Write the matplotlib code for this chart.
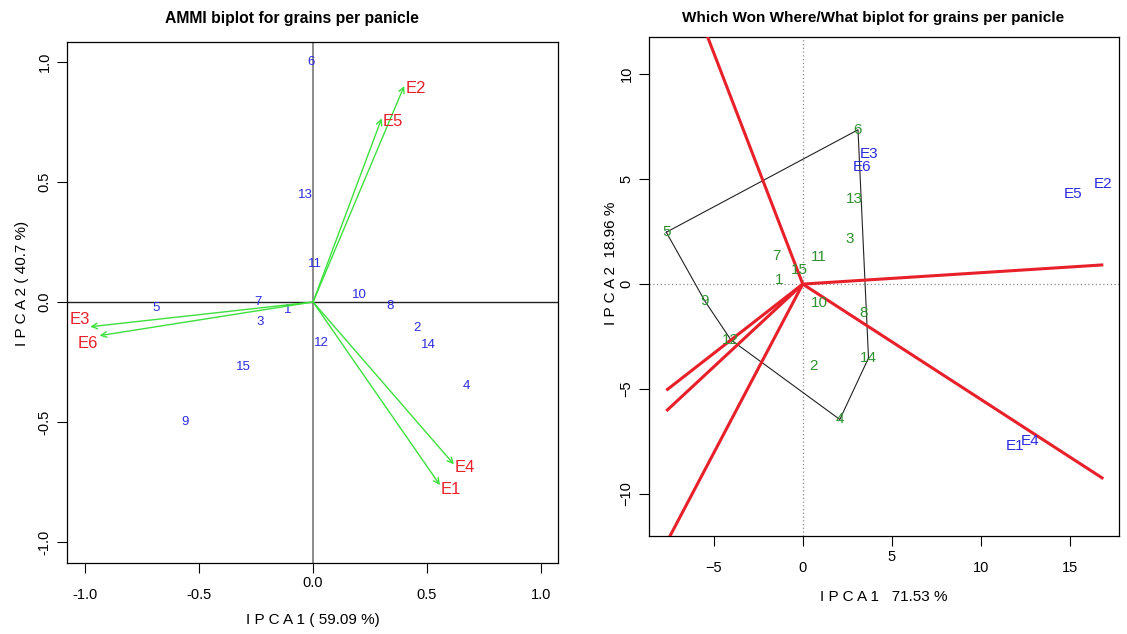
import numpy as np
import matplotlib
matplotlib.use("Agg")
import matplotlib.pyplot as plt
from matplotlib.transforms import ScaledTranslation

plt.rcParams['font.family'] = ['Liberation Sans', 'DejaVu Sans']

# AMMI biplot (left)
gen_labels = [str(i) for i in range(1, 16)]
ammi_gen_x = [-0.113, 0.455, -0.232, 0.674, -0.69, -0.01, -0.24, 0.338, -0.561, 0.203, 0.009, 0.038, -0.032, 0.506, -0.308]
ammi_gen_y = [-0.033, -0.107, -0.085, -0.35, -0.024, 1.0, 0.001, -0.017, -0.499, 0.029, 0.158, -0.172, 0.446, -0.179, -0.269]
env_labels = ['E1', 'E2', 'E3', 'E4', 'E5', 'E6']
ammi_env_x = [0.557, 0.40, -0.978, 0.618, 0.301, -0.937]
ammi_env_y = [-0.7625, 0.90, -0.103, -0.676, 0.765, -0.14]

# which won where (right)
www_gen_x = [-1.35, 0.58, 2.64, 2.08, -7.66, 3.1, -1.48, 3.39, -5.5, 0.96, 0.9, -4.04, 2.87, 3.69, -0.2]
www_gen_y = [0.2, -3.89, 2.13, -6.45, 2.47, 7.35, 1.34, -1.38, -0.8, -0.91, 1.31, -2.65, 4.05, -3.52, 0.68]
www_env_x = [11.91, 16.87, 3.72, 12.75, 15.19, 3.33]
www_env_y = [-7.69, 4.75, 6.19, -7.46, 4.27, 5.56]

BLUE = '#2b2bdf'
RED = '#e8202a'
LIME = '#3de03d'
GREEN = '#2f912f'


def convex_hull(pts):
    pts = sorted(set(pts))
    def cross(o, a, b):
        return (a[0] - o[0]) * (b[1] - o[1]) - (a[1] - o[1]) * (b[0] - o[0])
    lower, upper = [], []
    for p in pts:
        while len(lower) >= 2 and cross(lower[-2], lower[-1], p) <= 0:
            lower.pop()
        lower.append(p)
    for p in reversed(pts):
        while len(upper) >= 2 and cross(upper[-2], upper[-1], p) <= 0:
            upper.pop()
        upper.append(p)
    return lower[:-1] + upper[:-1]


def r_style(ax):
    ax.tick_params(direction='out', length=7, width=0.8, labelsize=10.5)
    ax.tick_params(axis='x', pad=11)
    ax.tick_params(axis='y', pad=4)
    for lbl in ax.get_yticklabels():
        lbl.set_rotation(90)
        lbl.set_va('center')
    for s in ax.spines.values():
        s.set_linewidth(0.9)


def raise_label(ax, i, px):
    # R drew this tick label a bit higher than the others
    lbl = ax.get_xticklabels()[i]
    lbl.set_transform(lbl.get_transform() + ScaledTranslation(0, px / 100, fig.dpi_scale_trans))


fig = plt.figure(figsize=(11.27, 6.34), dpi=100)

# ---- left panel
ax1 = fig.add_axes([67 / 1127, 1 - 563 / 634, 491 / 1127, 521 / 634])
ax1.set_xlim(-1.08, 1.075)
ax1.set_ylim(-1.087, 1.083)
ax1.axvline(0, color='#777777', lw=1.2, zorder=1)
ax1.axhline(0, color='#222222', lw=1.0, zorder=1)
for x, y, t in zip(ammi_gen_x, ammi_gen_y, gen_labels):
    ax1.text(x, y, t, color=BLUE, fontsize=9.5, ha='center', va='center')
# label offsets in pixels (style only)
env_off = {'E1': (1, -4), 'E2': (1, -3), 'E3': (0, 7), 'E4': (1, -3), 'E5': (1, -3), 'E6': (-2, -8)}
for x, y, t in zip(ammi_env_x, ammi_env_y, env_labels):
    ax1.annotate('', xy=(x, y), xytext=(0, 0),
                 arrowprops=dict(arrowstyle='->', color=LIME, lw=1.0, shrinkA=0, shrinkB=0, mutation_scale=10))
    dx, dy = env_off[t]
    ax1.annotate(t, (x, y), xytext=(dx * 0.72, dy * 0.72), textcoords='offset points',
                 color=RED, fontsize=12, ha='left' if x > 0 else 'right', va='center')
ax1.set_xticks([-1.0, -0.5, 0.0, 0.5, 1.0])
ax1.set_yticks([-1.0, -0.5, 0.0, 0.5, 1.0])
ax1.set_xticklabels(['-1.0', '-0.5', '0.0', '0.5', '1.0'])
ax1.set_yticklabels(['-1.0', '-0.5', '0.0', '0.5', '1.0'])
r_style(ax1)
raise_label(ax1, 2, 12)
ax1.set_xlabel('I P C A 1 ( 59.09 %)', fontsize=11, labelpad=8)
ax1.set_ylabel('I P C A 2 ( 40.7 %)', fontsize=11, labelpad=6, y=0.537)
fig.text(292 / 1127, 1 - 18 / 634, 'AMMI biplot for grains per panicle', fontsize=11.3,
         fontweight='bold', ha='center', va='center')

# ---- right panel
ax2 = fig.add_axes([649 / 1127, 1 - 536 / 634, 470 / 1127, 499 / 634])
ax2.set_xlim(-8.63, 17.75)
ax2.set_ylim(-12.0, 11.77)
ax2.axvline(0, color='#888888', lw=0.9, ls=(0, (1, 2)), zorder=1)
ax2.axhline(0, color='#888888', lw=0.9, ls=(0, (1, 2)), zorder=1)

hull = convex_hull(list(zip(www_gen_x, www_gen_y)))
hx = [p[0] for p in hull] + [hull[0][0]]
hy = [p[1] for p in hull] + [hull[0][1]]
ax2.plot(hx, hy, color='#222222', lw=0.8, zorder=2)

all_x = www_gen_x + www_env_x
xmin, xmax = min(all_x), max(all_x)
for i in range(len(hull)):
    p, q = np.array(hull[i]), np.array(hull[(i + 1) % len(hull)])
    d = q - p
    n = np.array([d[1], -d[0]])
    if np.dot(n, p) < 0:
        n = -n
    t = (xmax if n[0] > 0 else xmin) / n[0]
    ax2.plot([0, n[0] * t], [0, n[1] * t], color=RED, lw=2.2, zorder=3, solid_capstyle='butt')

for x, y, t in zip(www_gen_x, www_gen_y, gen_labels):
    ax2.text(x, y, t, color=GREEN, fontsize=11, ha='center', va='center', zorder=4)
for x, y, t in zip(www_env_x, www_env_y, env_labels):
    ax2.text(x, y, t, color=BLUE, fontsize=11, ha='center', va='center', zorder=4)

ax2.set_xticks([-5, 0, 5, 10, 15])
ax2.set_yticks([-10, -5, 0, 5, 10])
r_style(ax2)
raise_label(ax2, 2, 11)
ax2.set_xlabel('I P C A 1   71.53 %', fontsize=11, labelpad=11)
ax2.set_ylabel('I P C A 2  18.96 %', fontsize=11, labelpad=1, y=0.547)
fig.text(873 / 1127, 1 - 18 / 634, 'Which Won Where/What biplot for grains per panicle', fontsize=11,
         fontweight='bold', ha='center', va='center')

fig.savefig('out.png', dpi=100)
